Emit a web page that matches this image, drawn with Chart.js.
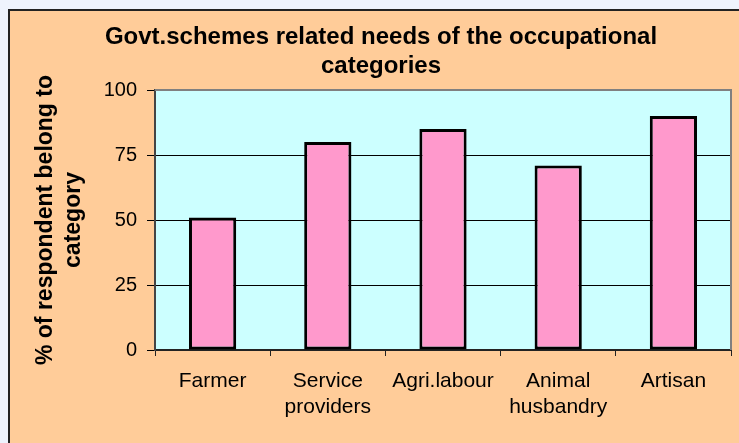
<!DOCTYPE html>
<html>
<head>
<meta charset="utf-8">
<script src="https://cdn.jsdelivr.net/npm/chart.js@4"></script>
<style>
  html, body { margin: 0; padding: 0; background: #eef3fd; }
  canvas { display: block; }
</style>
</head>
<body>
<canvas id="myChart" width="739" height="443"></canvas>
<script>
   // chart data
   const categories = [['Farmer'], ['Service', 'providers'], ['Agri.labour'], ['Animal', 'husbandry'], ['Artisan']];
   const values = [51, 80, 85, 71, 90];
   const yTicks = [0, 25, 50, 75, 100];
   const titleLines = ['Govt.schemes related needs of the occupational', 'categories'];
   const yTitleLines = ['% of respondent belong to', 'category'];

   const FONT = "'Liberation Sans', Arial, sans-serif";

   // peach chart background, cyan plot area, grey plot border
   const backdrop = {
       id: 'backdrop',
       beforeDraw(chart) {
           const ctx = chart.ctx;
           const a = chart.chartArea;
           ctx.save();
           ctx.fillStyle = '#eef3fd';
           ctx.fillRect(0, 0, chart.width, chart.height);
           ctx.fillStyle = '#ffcc99';
           ctx.fillRect(8, 9, chart.width - 8, chart.height - 9);
           ctx.fillStyle = '#222';
           ctx.fillRect(8, 9, 2, chart.height - 9);
           ctx.fillRect(8, 9, chart.width - 8, 2);
           ctx.fillStyle = '#ccffff';
           ctx.fillRect(a.left, a.top, a.right - a.left, a.bottom - a.top);
           ctx.restore();
       },
       afterDraw(chart) {
           const ctx = chart.ctx;
           const a = chart.chartArea;
           ctx.save();
           ctx.strokeStyle = '#808080';
           ctx.lineWidth = 2;
           ctx.beginPath();
           ctx.moveTo(a.left, a.top);
           ctx.lineTo(a.right, a.top);
           ctx.lineTo(a.right, a.bottom);
           ctx.stroke();
           ctx.restore();
       }
   };

   const config = {
       type: 'bar',
       data: {
           labels: categories,
           datasets: [{
               data: values,
               backgroundColor: '#ff99cc',
               borderColor: '#000',
               borderWidth: 3,
               borderSkipped: false,
               barPercentage: 1,
               categoryPercentage: 0.41
           }]
       },
       options: {
           responsive: false,
           animation: false,
           devicePixelRatio: 1,
           layout: {
               padding: { left: 31, right: 8, top: 0, bottom: 0 }
           },
           plugins: {
               legend: { display: false },
               tooltip: { enabled: false },
               title: {
                   display: true,
                   text: titleLines,
                   color: '#000',
                   font: { family: FONT, size: 24, weight: 'bold', lineHeight: 1.2 },
                   padding: { top: 23, bottom: 9.4 }
               }
           },
           scales: {
               x: {
                   grid: {
                       drawOnChartArea: false,
                       drawTicks: true,
                       tickLength: 6,
                       color: '#222'
                   },
                   border: { display: true, color: '#222', width: 2 },
                   ticks: {
                       color: '#000',
                       maxRotation: 0,
                       autoSkip: false,
                       padding: 12,
                       font: { family: FONT, size: 21, lineHeight: 1.25 }
                   },
                   afterFit: scale => { scale.height = 93; }
               },
               y: {
                   min: 0,
                   max: 100,
                   afterBuildTicks: scale => { scale.ticks = yTicks.map(v => ({ value: v })); },
                   grid: {
                       color: '#000',
                       lineWidth: 1,
                       tickLength: 8
                   },
                   border: { display: true, color: '#444', width: 2 },
                   ticks: {
                       color: '#000',
                       padding: 10,
                       font: { family: FONT, size: 20 }
                   },
                   title: {
                       display: true,
                       text: yTitleLines,
                       color: '#000',
                       font: { family: FONT, size: 23, weight: 'bold', lineHeight: 1.2 },
                       padding: { top: 1, bottom: 0 }
                   },
                   afterFit: scale => { scale.width = 124; }
               }
           }
       },
       plugins: [backdrop]
   };

   new Chart(document.getElementById('myChart'), config);
</script>
</body>
</html>
